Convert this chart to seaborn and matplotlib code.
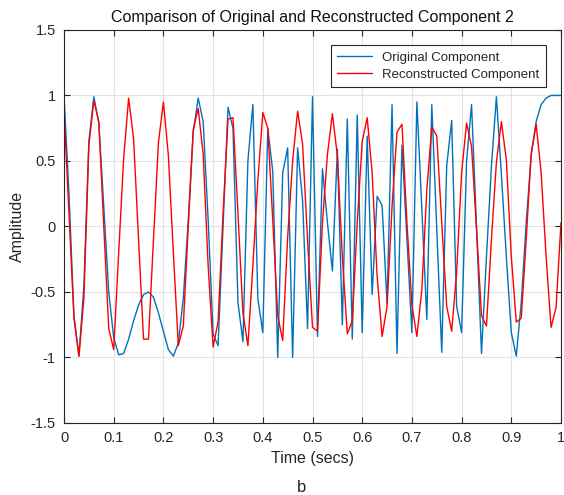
import numpy as np
import matplotlib
matplotlib.use("Agg")
import matplotlib.pyplot as plt
import seaborn as sns

# samples every 0.01 s, 0..1 s
time_s = np.round(np.arange(101) * 0.01, 2)

original = [
    1.0, 0.25, -0.68, -0.99, -0.45, 0.65, 0.99, 0.79, 0.15, -0.5,
    -0.85, -0.98, -0.97, -0.86, -0.72, -0.6, -0.52, -0.5, -0.54, -0.66,
    -0.8, -0.94, -0.99, -0.89, -0.55, 0.05, 0.72, 0.98, 0.8, 0.05,
    -0.82, -0.91, 0.0, 0.91, 0.75, -0.58, -0.88, 0.5, 0.93, -0.55,
    -0.81, 0.75, 0.42, -1.0, 0.41, 0.6, -1.0, 0.6, 0.2, -0.78,
    0.99, -0.84, 0.44, 0.03, -0.34, 0.59, -0.75, 0.82, -0.86, 0.85,
    -0.81, 0.69, -0.52, 0.23, 0.16, -0.59, 0.93, -0.97, 0.62, -0.1,
    -0.81, 0.95, 0.13, -0.71, 0.93, -0.02, -0.96, 0.46, 0.81, -0.61,
    -0.81, 0.5, 0.93, 0.0, -0.97, -0.23, 0.46, 0.99, 0.4, -0.23,
    -0.81, -0.99, -0.58, 0.03, 0.54, 0.8, 0.93, 0.98, 1.0, 1.0,
    1.0,
]

reconstructed = [
    0.89, 0.1, -0.7, -0.99, -0.55, 0.62, 0.96, 0.8, 0.0, -0.78,
    -0.94, -0.2, 0.52, 0.98, 0.67, -0.1, -0.86, -0.86, -0.1, 0.64,
    0.95, 0.54, -0.2, -0.91, -0.76, 0.0, 0.74, 0.9, 0.55, -0.3,
    -0.92, -0.73, 0.1, 0.82, 0.83, 0.1, -0.66, -0.91, -0.3, 0.35,
    0.87, 0.75, 0.05, -0.68, -0.87, -0.08, 0.5, 0.88, 0.63, -0.1,
    -0.77, -0.8, 0.03, 0.55, 0.86, 0.54, -0.23, -0.82, -0.72, 0.03,
    0.65, 0.83, 0.41, -0.38, -0.84, -0.61, 0.15, 0.72, 0.78, 0.03,
    -0.6, -0.84, -0.48, 0.28, 0.76, 0.69, 0.03, -0.61, -0.8, -0.35,
    0.41, 0.79, 0.61, -0.02, -0.68, -0.76, -0.1, 0.49, 0.8, 0.51,
    -0.23, -0.73, -0.7, -0.1, 0.56, 0.78, 0.41, -0.23, -0.77, -0.62,
    0.03,
]

xtick_vals = [0, 0.1, 0.2, 0.3, 0.4, 0.5, 0.6, 0.7, 0.8, 0.9, 1]
xtick_labels = ['0', '0.1', '0.2', '0.3', '0.4', '0.5', '0.6', '0.7', '0.8', '0.9', '1']
ytick_vals = [-1.5, -1, -0.5, 0, 0.5, 1, 1.5]
ytick_labels = ['-1.5', '-1', '-0.5', '0', '0.5', '1', '1.5']

sns.set_style("ticks")
plt.rcParams['font.family'] = ['Liberation Sans', 'DejaVu Sans']

fig = plt.figure(figsize=(5.64, 4.95), dpi=100)
ax = fig.add_axes([0.1135, 0.1455, 0.8812, 0.794])

sns.lineplot(x=time_s, y=original, ax=ax, color='#0072BD', lw=1,
             label='Original Component', estimator=None, sort=False)
sns.lineplot(x=time_s, y=reconstructed, ax=ax, color='#FF0000', lw=1,
             label='Reconstructed Component', estimator=None, sort=False)

ax.set_xlim(0, 1)
ax.set_ylim(-1.5, 1.5)
ax.set_xticks(xtick_vals)
ax.set_xticklabels(xtick_labels)
ax.set_yticks(ytick_vals)
ax.set_yticklabels(ytick_labels)
ax.tick_params(direction='in', top=True, right=True, length=4, width=0.8,
               colors='#262626', labelsize=10.5, pad=6)
ax.grid(True, color='#e3e3e3', lw=0.8)
ax.set_axisbelow(True)
for sp in ax.spines.values():
    sp.set_visible(True)
    sp.set_color('#262626')
    sp.set_linewidth(0.8)

ax.set_title('Comparison of Original and Reconstructed Component 2',
             fontsize=11.5, pad=6, color='#111111')
ax.set_xlabel('Time (secs)', fontsize=11.5, labelpad=4, color='#262626')
ax.set_ylabel('Amplitude', fontsize=11.5, labelpad=4, color='#262626')

leg = ax.legend(loc='upper right', bbox_to_anchor=(0.97, 0.962), borderaxespad=0,
                fontsize=9.5, frameon=True, fancybox=False, handlelength=2.6,
                labelspacing=0.35, borderpad=0.5)
leg.get_frame().set_edgecolor('#262626')
leg.get_frame().set_linewidth(0.8)
leg.get_frame().set_alpha(1)

fig.text(302 / 564, 1 - 487 / 495, 'b', ha='center', va='center', fontsize=12)

fig.savefig('out.png', dpi=100)
